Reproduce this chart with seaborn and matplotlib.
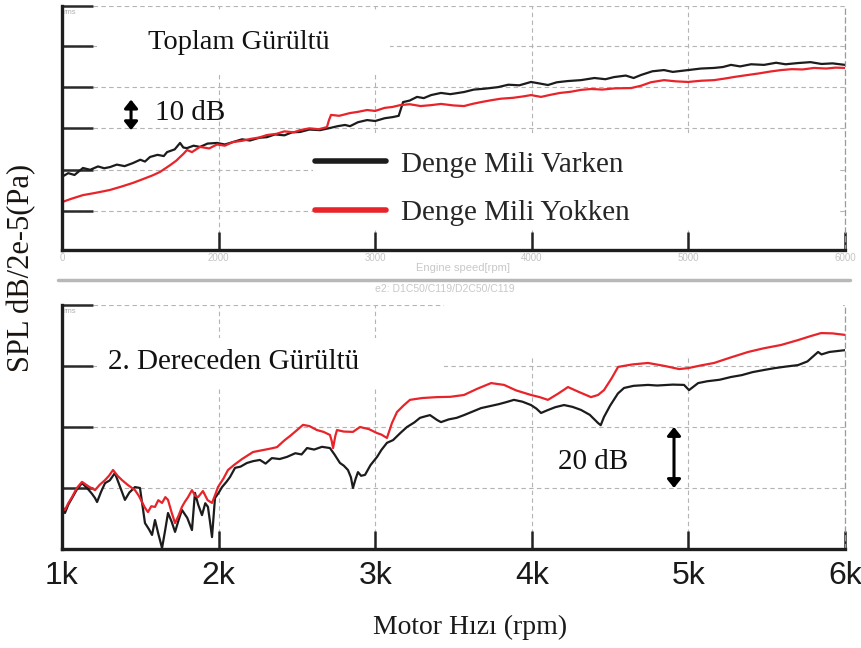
import numpy as np
import pandas as pd
import matplotlib
matplotlib.use("Agg")
import matplotlib.pyplot as plt
from matplotlib.patches import Rectangle
from matplotlib.lines import Line2D
import seaborn as sns

# ---- series labels -------------------------------------------------------
LABEL_VAR = "Denge Mili Varken"
LABEL_YOK = "Denge Mili Yokken"

# ---- total noise (Toplam Gürültü): engine speed [rpm] / SPL [dB] ---------
top_var_rpm = [1000, 1040, 1080, 1134, 1180, 1230, 1270, 1307, 1350, 1400, 1453, 1500, 1530, 1562,
               1610, 1650, 1671, 1720, 1754, 1775, 1798, 1840, 1881, 1930, 1990, 2040, 2092, 2150,
               2200, 2260, 2309, 2360, 2420, 2470, 2520, 2580, 2648, 2711, 2760, 2807, 2839, 2890,
               2948, 3000, 3060, 3114, 3150, 3178, 3220, 3267, 3310, 3357, 3420, 3480, 3567, 3630,
               3700, 3784, 3850, 3920, 3995, 4050, 4103, 4160, 4230, 4314, 4400, 4470, 4525, 4600,
               4650, 4698, 4770, 4844, 4900, 4998, 5080, 5164, 5220, 5272, 5330, 5400, 5483, 5560,
               5620, 5700, 5780, 5850, 5920, 6000]
top_var_spl = [24.0, 25.2, 24.6, 26.9, 26.3, 27.4, 26.8, 27.2, 28.0, 27.5, 28.5, 29.6, 29.0, 30.5,
               31.2, 30.8, 32.1, 33.0, 35.1, 33.6, 33.4, 34.2, 33.8, 34.9, 35.1, 34.6, 35.4, 36.3,
               35.9, 36.8, 37.0, 37.9, 37.6, 38.6, 38.7, 39.5, 39.3, 40.0, 40.6, 41.0, 40.6, 41.9,
               42.6, 42.3, 43.2, 43.6, 44.0, 48.5, 49.0, 50.2, 49.8, 50.8, 51.5, 51.1, 51.8, 52.6,
               52.9, 53.4, 54.2, 54.0, 55.1, 54.6, 54.1, 55.0, 55.4, 55.7, 56.4, 56.0, 56.7, 57.2,
               56.4, 57.4, 58.6, 59.0, 58.4, 59.0, 59.5, 59.7, 60.0, 60.7, 60.2, 60.9, 60.7, 61.4,
               60.9, 61.3, 61.6, 61.0, 61.2, 60.7]

top_yok_rpm = [1000, 1060, 1134, 1200, 1260, 1307, 1380, 1453, 1520, 1580, 1626, 1690, 1730, 1754,
               1775, 1798, 1830, 1881, 1940, 1990, 2040, 2092, 2150, 2200, 2260, 2309, 2370, 2420,
               2480, 2520, 2580, 2640, 2692, 2705, 2718, 2770, 2839, 2890, 2948, 3000, 3060, 3110,
               3159, 3220, 3290, 3357, 3420, 3500, 3567, 3620, 3676, 3740, 3800, 3880, 3950, 3995,
               4059, 4120, 4180, 4250, 4314, 4380, 4450, 4530, 4634, 4700, 4760, 4844, 4920, 4998,
               5080, 5164, 5230, 5300, 5381, 5450, 5520, 5592, 5660, 5730, 5802, 5880, 5940, 6000]
top_yok_spl = [15.7, 16.8, 18.0, 18.6, 19.2, 19.7, 20.8, 22.0, 23.3, 24.5, 25.6, 27.8, 29.3, 30.5,
               31.5, 32.8, 32.1, 33.8, 33.3, 34.6, 34.2, 35.4, 35.8, 36.4, 36.9, 37.7, 38.1, 38.9,
               38.6, 39.3, 39.9, 39.6, 40.3, 42.6, 44.3, 44.0, 44.9, 45.3, 45.9, 45.6, 46.6, 46.9,
               47.5, 47.8, 47.2, 47.5, 47.9, 47.4, 47.2, 47.9, 48.5, 49.1, 49.6, 49.9, 50.4, 50.8,
               50.2, 50.9, 51.5, 51.9, 52.5, 52.8, 52.6, 53.0, 53.1, 53.9, 55.0, 55.7, 55.3, 55.1,
               55.5, 55.7, 56.2, 56.8, 57.4, 57.9, 58.5, 59.0, 59.3, 59.2, 59.7, 59.5, 59.8, 59.7]

# ---- 2nd order noise (2. Dereceden Gürültü) ------------------------------
bot_var_rpm = [1000, 1019, 1040, 1064, 1095, 1128, 1160, 1190, 1211, 1224, 1250, 1275, 1305, 1338,
               1370, 1402, 1430, 1466, 1498, 1515, 1530, 1555, 1575, 1594, 1615, 1639, 1660, 1677,
               1700, 1722, 1745, 1766, 1800, 1830, 1849, 1870, 1894, 1915, 1932, 1945, 1958, 1977,
               2000, 2022, 2050, 2073, 2105, 2140, 2181, 2220, 2264, 2300, 2340, 2390, 2437, 2490,
               2530, 2565, 2610, 2660, 2711, 2740, 2775, 2800, 2826, 2845, 2858, 2875, 2890, 2910,
               2935, 2970, 3012, 3040, 3075, 3114, 3160, 3203, 3250, 3286, 3320, 3350, 3395, 3420,
               3470, 3520, 3567, 3620, 3676, 3730, 3790, 3840, 3886, 3940, 3995, 4030, 4059, 4100,
               4150, 4206, 4260, 4314, 4370, 4423, 4440, 4461, 4500, 4550, 4589, 4650, 4742, 4800,
               4900, 4972, 5004, 5062, 5120, 5200, 5272, 5340, 5410, 5483, 5550, 5620, 5700, 5760,
               5800, 5828, 5850, 5900, 5950, 6000]
bot_var_spl = [13.5, 11.8, 14.5, 16.7, 19.5, 21.6, 20.0, 18.2, 16.7, 15.4, 18.8, 21.6, 22.5, 24.9,
               20.5, 16.1, 18.5, 20.3, 20.0, 14.0, 8.5, 6.5, 4.6, 9.5, 5.0, 0.3, 6.5, 11.8,
               9.0, 5.6, 9.5, 12.8, 10.2, 6.2, 18.4, 14.5, 11.1, 15.0, 13.8, 9.0, 3.9, 16.7,
               18.4, 20.3, 22.0, 23.6, 26.6, 27.0, 28.2, 28.8, 29.2, 28.0, 29.8, 29.5, 30.2, 31.4,
               31.0, 33.1, 32.6, 33.5, 33.1, 31.0, 28.2, 27.3, 25.9, 23.5, 20.0, 23.0, 25.2, 24.0,
               24.3, 27.5, 30.2, 32.5, 34.8, 35.7, 38.0, 40.0, 41.5, 43.0, 43.5, 43.9, 42.3, 41.6,
               42.5, 43.0, 43.9, 45.0, 46.2, 46.8, 47.5, 48.2, 48.9, 48.3, 47.2, 46.0, 44.6, 45.5,
               46.5, 47.2, 46.6, 45.6, 44.0, 41.3, 40.6, 43.3, 47.0, 51.0, 52.8, 53.5, 53.8, 53.6,
               53.9, 53.8, 52.1, 54.4, 55.0, 55.5, 56.4, 57.0, 58.0, 58.7, 59.3, 59.8, 60.3, 61.5,
               63.3, 64.6, 63.8, 64.6, 64.9, 65.2]

bot_yok_rpm = [1000, 1019, 1040, 1064, 1095, 1128, 1170, 1211, 1240, 1275, 1300, 1326, 1355, 1383,
               1420, 1466, 1490, 1511, 1530, 1549, 1570, 1594, 1615, 1639, 1660, 1677, 1700, 1722,
               1745, 1766, 1785, 1805, 1830, 1850, 1869, 1900, 1930, 1958, 1980, 1996, 2030, 2060,
               2100, 2150, 2220, 2280, 2330, 2373, 2420, 2460, 2501, 2539, 2580, 2628, 2670, 2711,
               2722, 2731, 2745, 2756, 2800, 2858, 2903, 2960, 3012, 3040, 3075, 3107, 3139, 3180,
               3222, 3300, 3395, 3480, 3567, 3650, 3740, 3823, 3900, 3995, 4050, 4103, 4170, 4231,
               4300, 4378, 4423, 4461, 4510, 4551, 4640, 4742, 4850, 4940, 4998, 5080, 5164, 5270,
               5381, 5480, 5592, 5700, 5780, 5847, 5920, 6000]
bot_yok_spl = [14.0, 12.8, 15.0, 17.0, 20.0, 22.0, 20.5, 19.3, 21.0, 22.6, 24.0, 25.9, 24.0, 22.6,
               21.0, 19.3, 17.5, 15.4, 13.5, 12.1, 14.0, 13.8, 16.0, 15.1, 17.0, 16.1, 12.0, 8.5,
               11.0, 13.8, 15.5, 17.0, 19.3, 17.5, 17.0, 19.0, 16.0, 15.1, 18.0, 20.3, 23.0, 25.9,
               27.6, 29.5, 31.8, 32.4, 32.9, 33.4, 35.6, 37.2, 39.0, 40.7, 40.3, 39.0, 38.4, 37.4,
               35.5, 33.1, 37.0, 39.0, 38.5, 38.4, 40.0, 39.3, 38.0, 37.5, 36.4, 41.3, 44.9, 47.0,
               48.9, 49.5, 49.8, 49.9, 50.5, 52.5, 54.4, 53.8, 52.0, 50.5, 49.8, 48.9, 51.0, 53.1,
               51.5, 49.8, 50.5, 52.1, 56.0, 59.7, 60.5, 61.0, 60.0, 59.0, 59.3, 60.2, 61.0, 62.8,
               64.6, 65.8, 66.9, 68.5, 69.8, 70.8, 70.7, 70.2]

# ---- axis ticks and labels -----------------------------------------------
x_ticks = [1000, 2000, 3000, 4000, 5000, 6000]
top_tick_text = ["0", "2000", "3000", "4000", "5000", "6000"]
bot_tick_text = ["1k", "2k", "3k", "4k", "5k", "6k"]
top_grid_levels = [12.8, 26.2, 40.0, 53.4, 66.9, 80.0]
bot_grid_levels = [20, 40, 60, 80]

SERIF = ["Liberation Serif", "DejaVu Serif"]
SANS = ["Liberation Sans", "DejaVu Sans"]

sns.set_theme(style="white")
plt.rcParams["font.family"] = SERIF

fig = plt.figure(figsize=(8.62, 6.48), dpi=100)
ax_top = fig.add_axes([0.0719, 0.6142, 0.9084, 0.3765])
ax_bot = fig.add_axes([0.0719, 0.1528, 0.9084, 0.3765])

palette = {LABEL_VAR: "#1c1c1c", LABEL_YOK: "#e8232a"}
ARROW = dict(arrowstyle="<|-|>,head_length=0.5,head_width=0.4", color="black", lw=2.2,
             mutation_scale=10, shrinkA=0, shrinkB=0)


def long_frame(rpm_a, spl_a, rpm_b, spl_b):
    return pd.concat([
        pd.DataFrame({"rpm": rpm_a, "SPL": spl_a, "durum": LABEL_VAR}),
        pd.DataFrame({"rpm": rpm_b, "SPL": spl_b, "durum": LABEL_YOK}),
    ], ignore_index=True)


def style_axes(ax, levels):
    ax.set_xlim(1000, 6000)
    ax.set_ylim(0, 80)
    ax.set_xticks(x_ticks)
    ax.set_yticks(levels)
    ax.set_yticklabels([])
    ax.set_xlabel("")
    ax.set_ylabel("")
    ax.set_axisbelow(True)
    ax.grid(True, color="#b4b4b4", linestyle=(0, (4, 3)), linewidth=0.8)
    for side in ("left", "bottom"):
        ax.spines[side].set_color("#1e1e1e")
        ax.spines[side].set_linewidth(2.4)
    ax.spines["top"].set_visible(False)
    ax.spines["right"].set_color("#9a9a9a")
    ax.spines["right"].set_linestyle((0, (4, 3)))
    ax.spines["right"].set_linewidth(0.9)
    ax.tick_params(axis="y", which="major", direction="in", left=True, length=22,
                   width=1.8, color="#2a2a2a")
    ax.tick_params(axis="x", which="major", direction="in", bottom=True, length=13,
                   width=1.8, color="#222222")


# ---- top panel ------------------------------------------------------------
df_top = long_frame(top_var_rpm, top_var_spl, top_yok_rpm, top_yok_spl)
sns.lineplot(data=df_top, x="rpm", y="SPL", hue="durum", hue_order=[LABEL_VAR, LABEL_YOK],
             palette=palette, estimator=None, sort=True, linewidth=1.6, ax=ax_top)
style_axes(ax_top, top_grid_levels)
ax_top.set_xticklabels(top_tick_text, fontsize=7, color="#c4c4c4", family=SANS)
ax_top.tick_params(axis="x", pad=2)

# white patches behind the title and legend
ax_top.add_patch(Rectangle((0.045, 0.717), 0.374, 0.258, transform=ax_top.transAxes,
                           facecolor="white", edgecolor="none", zorder=1.2))
ax_top.add_patch(Rectangle((0.32, 0.09), 0.673, 0.39, transform=ax_top.transAxes,
                           facecolor="white", edgecolor="none", zorder=1.2))

ax_top.text(1549, 68.2, "Toplam Gürültü", fontsize=20.5, color="#111111",
            ha="left", va="center", zorder=4)
ax_top.text(1594, 44.9, "10 dB", fontsize=21, color="#111111", ha="left", va="center", zorder=4)
ax_top.annotate("", xy=(1441, 49.3), xytext=(1441, 39.3), arrowprops=ARROW, zorder=4)
ax_top.text(1000 + 10, 79.0, "rms", fontsize=5.5, color="#b0b0b0", family=SANS,
            ha="left", va="top", zorder=4)

handles, labels = ax_top.get_legend_handles_labels()
leg = ax_top.legend(handles, labels, loc="center left", bbox_to_anchor=(0.323, 0.252),
                    frameon=False, fontsize=21, handlelength=2.45, handletextpad=0.5,
                    labelspacing=0.75, borderpad=0, borderaxespad=0)
for line in leg.get_lines():
    line.set_linewidth(4)

# ---- bottom panel ---------------------------------------------------------
df_bot = long_frame(bot_var_rpm, bot_var_spl, bot_yok_rpm, bot_yok_spl)
sns.lineplot(data=df_bot, x="rpm", y="SPL", hue="durum", hue_order=[LABEL_VAR, LABEL_YOK],
             palette=palette, estimator=None, sort=True, linewidth=1.6, legend=False, ax=ax_bot)
style_axes(ax_bot, bot_grid_levels)
ax_bot.set_xticklabels(bot_tick_text, fontsize=23, color="#1a1a1a", family=SANS)
ax_bot.tick_params(axis="x", pad=9)

ax_bot.add_patch(Rectangle((0.045, 0.66), 0.443, 0.205, transform=ax_bot.transAxes,
                           facecolor="white", edgecolor="none", zorder=1.2))
ax_bot.add_patch(Rectangle((0.488, 0.79), 0.509, 0.22, transform=ax_bot.transAxes,
                           facecolor="white", edgecolor="none", zorder=1.2, clip_on=False))

ax_bot.text(1294, 61.3, "2. Dereceden Gürültü", fontsize=21, color="#111111",
            ha="left", va="center", zorder=4)
ax_bot.text(4167, 28.5, "20 dB", fontsize=21, color="#111111", ha="left", va="center", zorder=4)
ax_bot.annotate("", xy=(4908, 40.0), xytext=(4908, 20.0), arrowprops=ARROW, zorder=4)
ax_bot.text(1000 + 10, 79.0, "rms", fontsize=5.5, color="#b0b0b0", family=SANS,
            ha="left", va="top", zorder=4)

# ---- figure-level text and separator --------------------------------------
fig.text(0.0255, 0.5864, "SPL dB/2e-5(Pa)", rotation=90, fontsize=22, color="#1a1410",
         ha="center", va="center")
fig.text(0.545, 0.031, "Motor Hızı (rpm)", fontsize=20, color="#1a1a1a", ha="center", va="center")
fig.text(463 / 862, 1 - 268 / 648, "Engine speed[rpm]", fontsize=8, color="#c8c8c8",
         family=SANS, ha="center", va="center")
fig.add_artist(Line2D([58 / 862, 850 / 862], [1 - 280 / 648, 1 - 280 / 648],
                      transform=fig.transFigure, color="#b8b8b8", linewidth=2.5))
fig.text(445 / 862, 1 - 289 / 648, "e2: D1C50/C119/D2C50/C119", fontsize=7.5, color="#c8c8c8",
         family=SANS, ha="center", va="center")

fig.savefig("out.png", dpi=100, facecolor="white")
